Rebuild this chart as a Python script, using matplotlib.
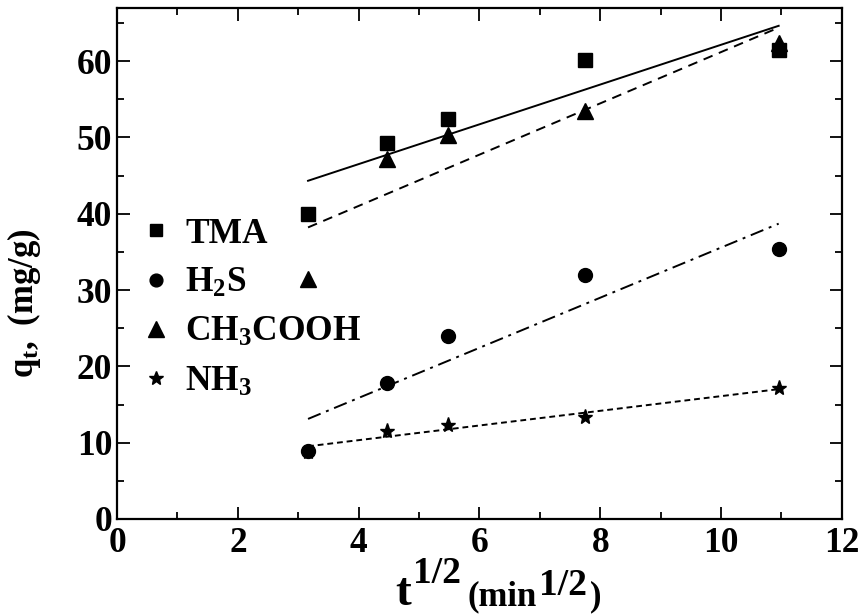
import numpy as np
import matplotlib
matplotlib.use("Agg")
import matplotlib.pyplot as plt
from matplotlib.lines import Line2D
from matplotlib.ticker import MultipleLocator

plt.rcParams['font.family'] = ['Liberation Serif', 'DejaVu Serif']
plt.rcParams['font.weight'] = 'bold'
plt.rcParams['mathtext.fontset'] = 'custom'
plt.rcParams['mathtext.rm'] = 'Liberation Serif:bold'
plt.rcParams['mathtext.it'] = 'Liberation Serif:bold'
plt.rcParams['mathtext.bf'] = 'Liberation Serif:bold'

# square root of contact time (min^1/2) for 10, 20, 30, 60, 120 min
t_sqrt = [3.162, 4.472, 5.477, 7.746, 10.954]

# adsorbed amount q_t (mg/g)
q_tma = [40.0, 49.3, 52.4, 60.1, 61.5]
q_h2s = [8.9, 17.8, 24.0, 32.0, 35.4]
q_ch3cooh = [31.4, 47.2, 50.3, 53.5, 62.4]
q_nh3 = [8.8, 11.5, 12.3, 13.3, 17.1]

labels = ['TMA', r'$\mathrm{H_2S}$', r'$\mathrm{CH_3COOH}$', r'$\mathrm{NH_3}$']

W, H = 867, 616
fig = plt.figure(figsize=(W / 100, H / 100), dpi=100)
ax = fig.add_axes([0.135, 0.1575, 0.836, 0.830])

x = np.array(t_sqrt)
xfit = np.array([x[0], x[-1]])

# (values, marker, marker size, fit line style)
series = [
    (q_tma, 's', 9.5, '-'),
    (q_h2s, 'o', 10, (0, (7, 3, 1.5, 3))),
    (q_ch3cooh, '^', 12, (0, (5, 3.5))),
    (q_nh3, '*', 11, (0, (3, 2))),
]

# linear intraparticle-diffusion fits
for q, mk, ms, ls in series:
    y = np.array(q)
    k, b = np.polyfit(x, y, 1)
    ax.plot(xfit, k * xfit + b, color='black', lw=1.4, linestyle=ls, zorder=2)
for q, mk, ms, ls in series:
    ax.plot(x, q, linestyle='none', marker=mk, markersize=ms,
            color='black', zorder=3)

ax.set_xlim(0, 12)
ax.set_ylim(0, 67)
ax.xaxis.set_major_locator(MultipleLocator(2))
ax.xaxis.set_minor_locator(MultipleLocator(1))
ax.yaxis.set_major_locator(MultipleLocator(10))
ax.yaxis.set_minor_locator(MultipleLocator(5))
ax.tick_params(which='both', direction='in', top=True, right=True,
               labelsize=25.5, width=1.3)
ax.tick_params(which='major', length=9)
ax.tick_params(which='minor', length=5)
ax.tick_params(axis='x', pad=6)
for lab in ax.get_xticklabels() + ax.get_yticklabels():
    lab.set_fontweight('bold')
for sp in ax.spines.values():
    sp.set_linewidth(1.6)

ax.set_ylabel(r'$\mathrm{q_{t},\ (mg/g)}$', fontsize=25)
ax.yaxis.set_label_coords(-0.102, 0.423)

handles = [Line2D([], [], linestyle='none', marker=m, markersize=s * 0.92,
                  color='black') for _, m, s, _ in series]
ax.legend(handles, labels, loc='upper left', bbox_to_anchor=(0.0, 0.638),
          frameon=False, fontsize=25.5, handlelength=0.8, handletextpad=0.42,
          labelspacing=0.46, borderaxespad=0.3)

# x-axis title built from runs of different size and baseline
runs = [
    ('t', 34, 605, 0),
    ('1/2', 27, 583, 2),
    ('(min', 25, 605, 7),
    ('1/2', 27, 595, 2),
    (')', 25, 605, 3),
]
renderer = fig.canvas.get_renderer()
texts = []
widths = []
for s, size, base, gap in runs:
    t = fig.text(0, 1 - base / H, s, fontsize=size, fontweight='bold',
                 va='baseline', ha='left')
    texts.append(t)
    widths.append(t.get_window_extent(renderer).width)
total = sum(widths) + sum(r[3] for r in runs[1:])
xpos = 498 - total / 2
for i, (t, w) in enumerate(zip(texts, widths)):
    if i > 0:
        xpos += runs[i][3]
    t.set_x(xpos / W)
    xpos += w

fig.savefig('out.png', dpi=100)
